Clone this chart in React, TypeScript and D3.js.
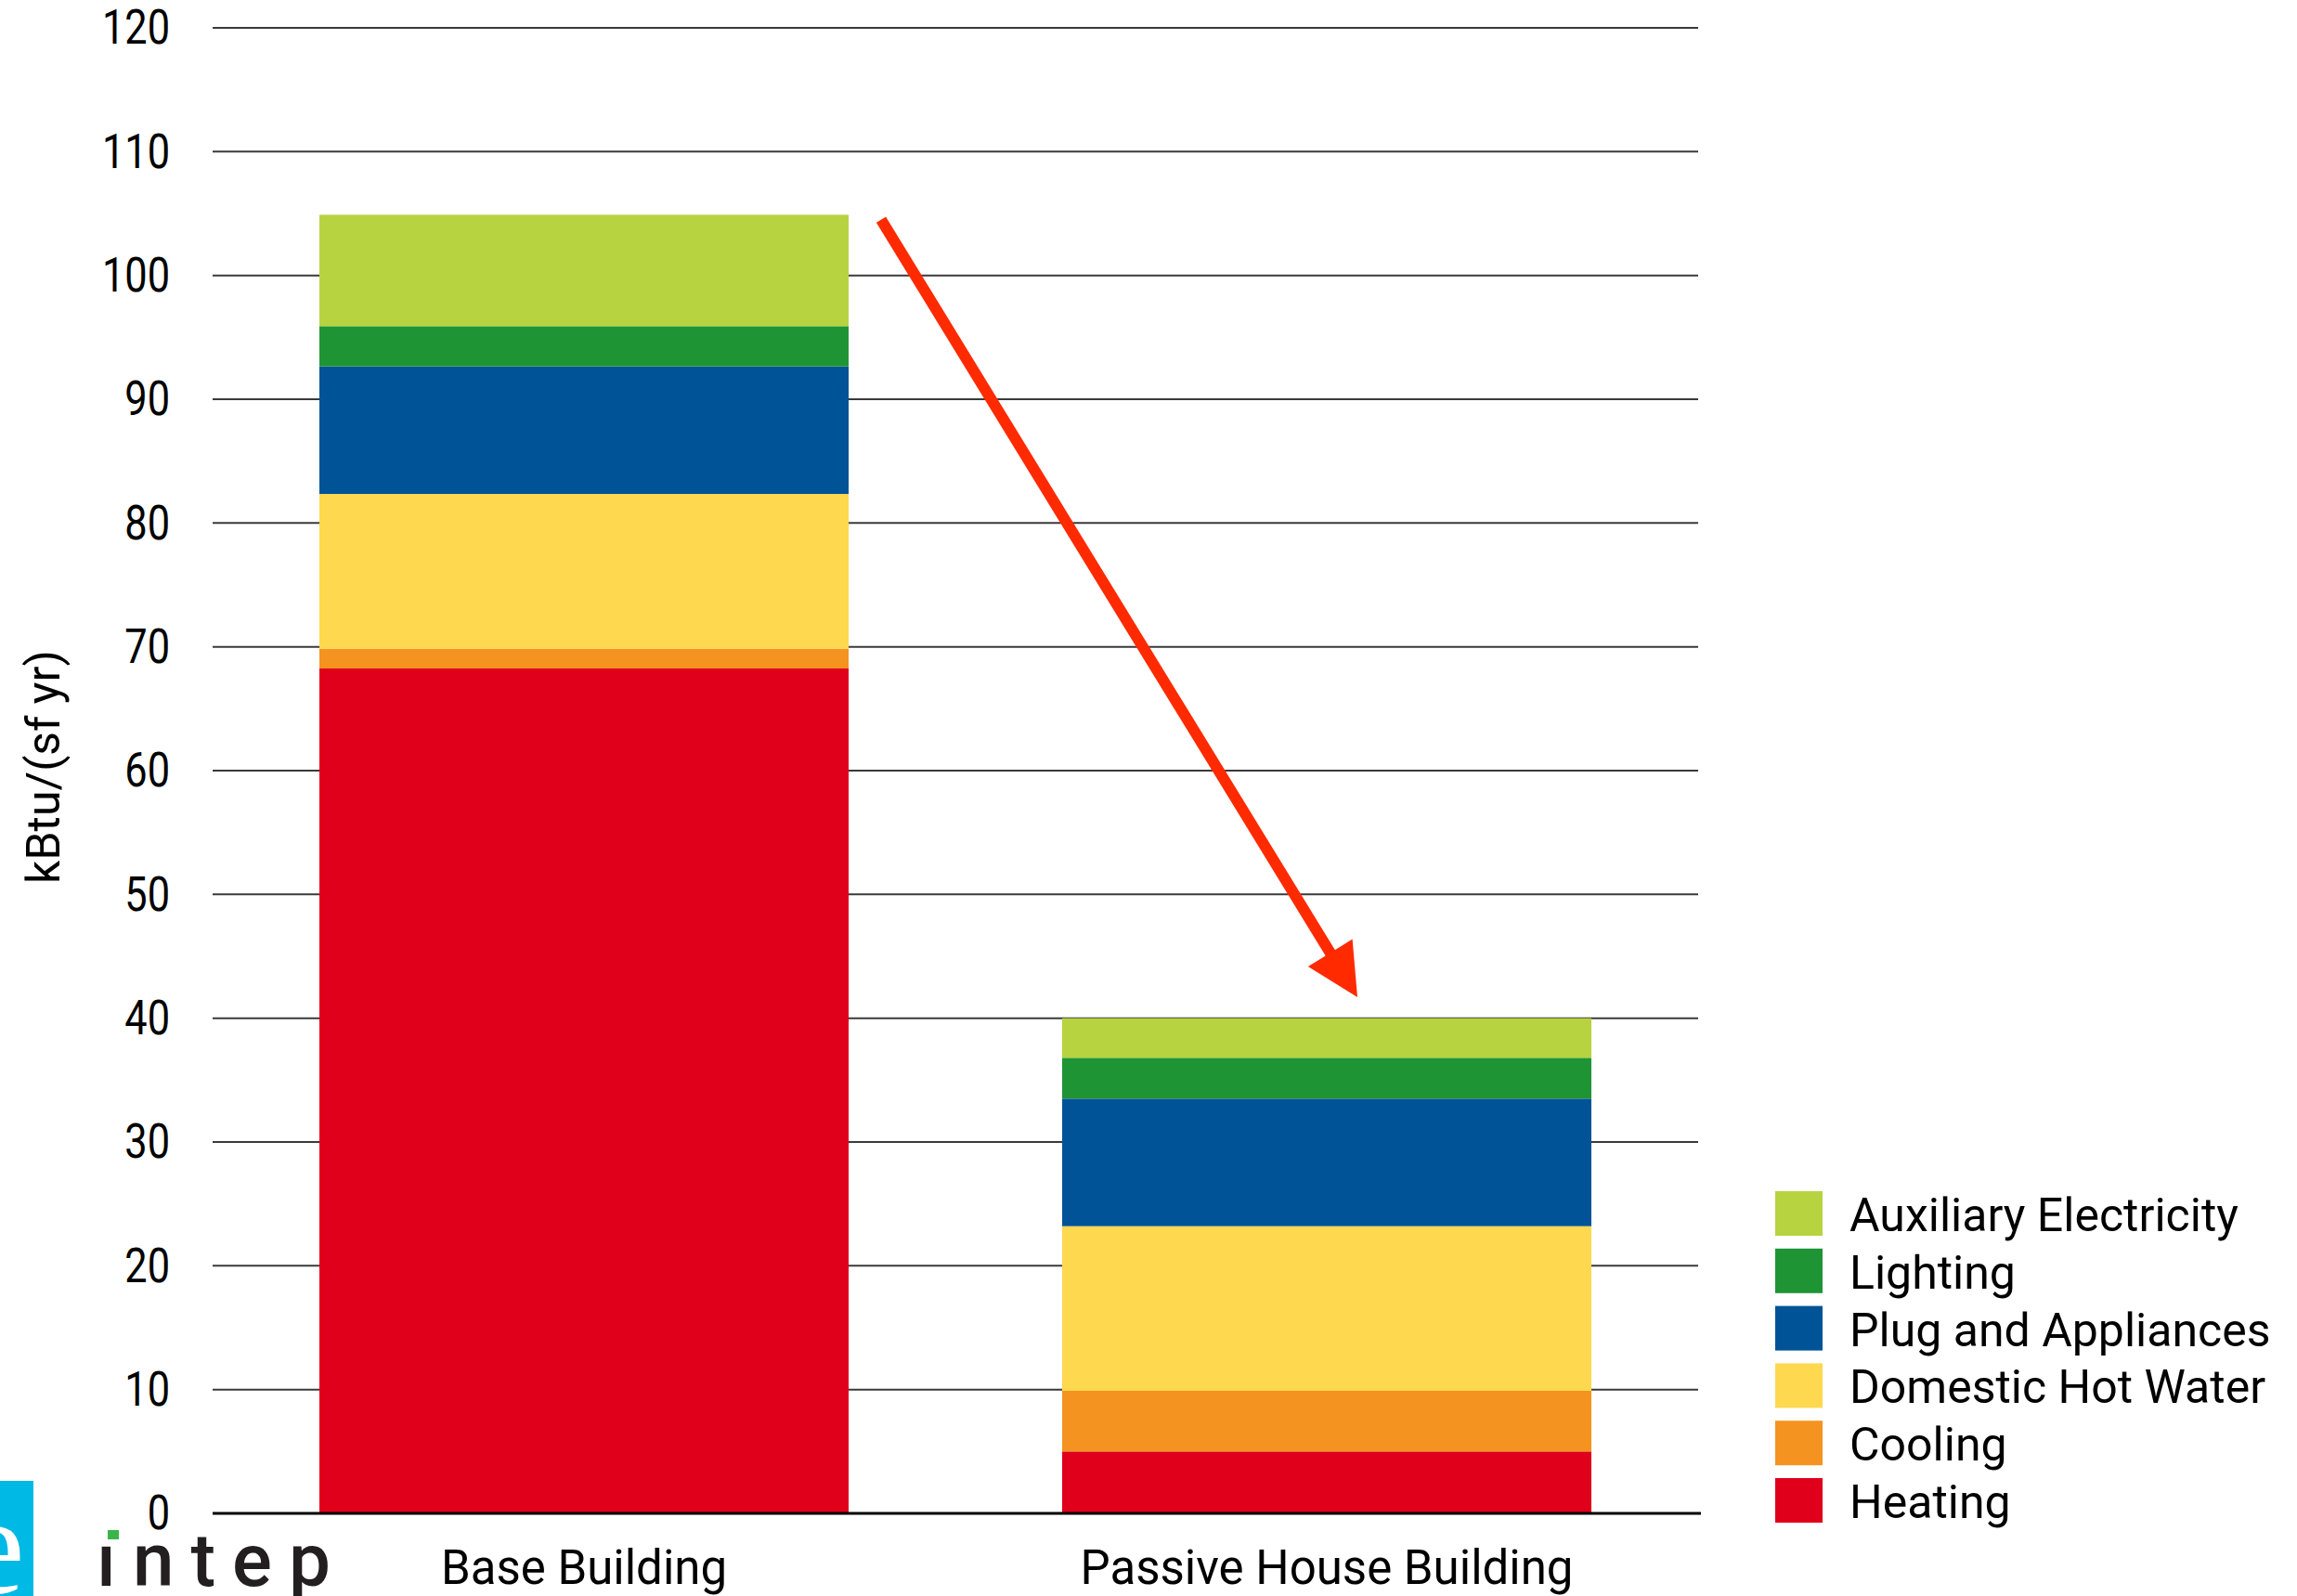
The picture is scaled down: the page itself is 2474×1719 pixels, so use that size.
import React from 'react';
import * as d3 from 'd3';

// Annual energy use intensity by end use, kBtu/(sf yr)
const categories = ['Base Building', 'Passive House Building'];
const endUses = ['Heating', 'Cooling', 'Domestic Hot Water', 'Plug and Appliances', 'Lighting', 'Auxiliary Electricity'];
const heating = [68.25, 5.0];
const cooling = [1.6, 4.9];
const hotWater = [12.5, 13.3];
const plugLoads = [10.3, 10.3];
const lighting = [3.25, 3.3];
const auxiliary = [9.0, 3.2];
const endUseColors = ['#e0001b', '#f4931f', '#fed84f', '#005397', '#1e9435', '#b7d340'];
const yTicks = [0, 10, 20, 30, 40, 50, 60, 70, 80, 90, 100, 110, 120];
const yLabel = 'kBtu/(sf yr)';

const W = 2474;
const H = 1719;
const FONT = 'Roboto, "Noto Sans", sans-serif';

export default function App() {
  const series = [heating, cooling, hotWater, plugLoads, lighting, auxiliary];
  const rows = categories.map((c, i) => {
    const r: Record<string, any> = { category: c };
    endUses.forEach((u, k) => (r[u] = series[k][i]));
    return r;
  });
  const stacked = d3.stack<any>().keys(endUses)(rows);

  const x = d3.scaleBand<string>().domain(categories).range([229, 1829]).paddingInner(0.2875).paddingOuter(0.14375);
  const y = d3.scaleLinear().domain([0, 120]).range([1630, 30]);
  const color = d3.scaleOrdinal<string, string>().domain(endUses).range(endUseColors);

  const totals = categories.map((_, i) => d3.sum(series, (s) => s[i]));

  // Reduction arrow from the top of the base stack down to the passive stack
  const x0 = (x(categories[0]) as number) + x.bandwidth() + 35;
  const y0 = y(totals[0] - 0.4);
  const x1 = (x(categories[1]) as number) + x.bandwidth() / 2 + 33;
  const y1 = y(totals[1] + 1.7);
  const len = Math.hypot(x1 - x0, y1 - y0);
  const ux = (x1 - x0) / len;
  const uy = (y1 - y0) / len;
  const headLen = 56;
  const headHalf = 28;
  const bx = x1 - ux * headLen;
  const by = y1 - uy * headLen;
  const headPts = [
    [x1, y1],
    [bx + uy * headHalf, by - ux * headHalf],
    [bx - uy * headHalf, by + ux * headHalf],
  ];

  const legendItems = [...endUses].reverse();

  return (
    <svg width={W} height={H} style={{ position: 'absolute', left: 0, top: 0, background: '#fff' }} fontFamily={FONT}>
      {/* gridlines */}
      {yTicks.filter((t) => t > 0).map((t) => (
        <line key={t} x1={229} x2={1829} y1={y(t)} y2={y(t)} stroke="#3a3a3a" strokeWidth={2} />
      ))}

      {/* stacked bars */}
      {stacked.map((layer) => (
        <g key={layer.key} fill={color(layer.key)}>
          {layer.map((d, i) => (
            <rect
              key={i}
              x={x(categories[i])}
              width={x.bandwidth()}
              y={y(d[1])}
              height={y(d[0]) - y(d[1])}
            />
          ))}
        </g>
      ))}

      {/* baseline */}
      <line x1={229} x2={1832} y1={y(0)} y2={y(0)} stroke="#000" strokeWidth={3} />

      {/* y tick labels, narrowed horizontally */}
      {yTicks.map((t) => (
        <text key={t} transform={`translate(183, ${y(t)}) scale(0.85, 1)`} textAnchor="end" dominantBaseline="central"
          fontSize={51} fill="#000">
          {t}
        </text>
      ))}

      {/* y axis title */}
      <text transform={`translate(64, ${(y(0) + y(120)) / 2 - 4}) rotate(-90)`} textAnchor="middle" fontSize={50} fill="#000">
        {yLabel}
      </text>

      {/* category labels */}
      {categories.map((c) => (
        <text key={c} x={(x(c) as number) + x.bandwidth() / 2} y={1706} textAnchor="middle" fontSize={51} fill="#000">
          {c}
        </text>
      ))}

      {/* arrow */}
      <line x1={x0} y1={y0} x2={bx + ux * 4} y2={by + uy * 4} stroke="#ff2a00" strokeWidth={12} />
      <polygon points={headPts.map((p) => p.join(',')).join(' ')} fill="#ff2a00" />

      {/* legend */}
      {legendItems.map((k, i) => (
        <g key={k} transform={`translate(1912, ${1283 + i * 61.8})`}>
          <rect width={51} height={48} fill={color(k)} />
          <text x={80} y={43} fontSize={50} fill="#000">{k}</text>
        </g>
      ))}

      {/* logo */}
      <defs>
        <clipPath id="logoClip">
          <rect x={0} y={1595} width={36} height={124} />
        </clipPath>
      </defs>
      <rect x={0} y={1595} width={36} height={124} fill="#00b9e4" />
      <text x={-40} y={1716} fontSize={150} fill="#fff" fontFamily='"Liberation Serif", serif' clipPath="url(#logoClip)">e</text>
      <rect x={116} y={1648} width={12} height={10} fill="#3bb54a" />
      <text x={104} y={1708} fontSize={80} fontWeight={500} letterSpacing={18} fill="#231f20">{'\u0131ntep'}</text>
    </svg>
  );
}
